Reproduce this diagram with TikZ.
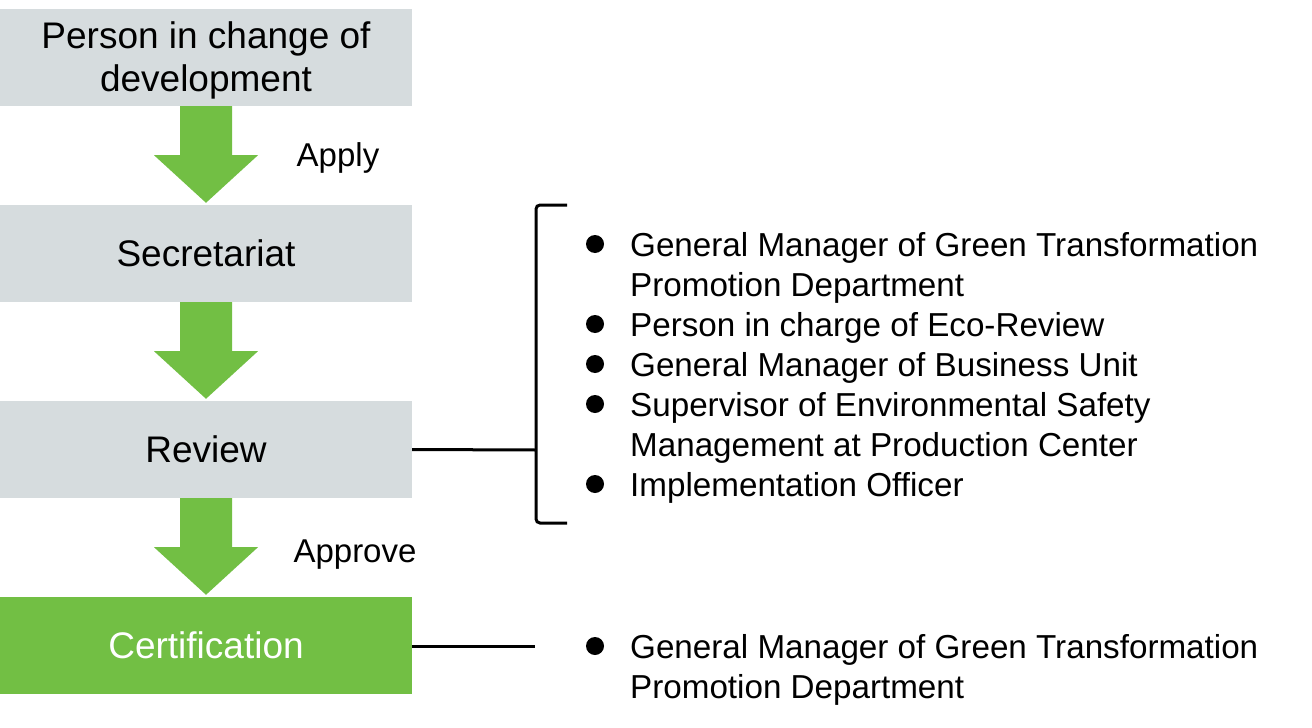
\documentclass[tikz,border=0pt]{standalone}
\usepackage{fontspec}
\setmainfont{Liberation Sans}
\usetikzlibrary{calc}
\definecolor{boxgray}{RGB}{214,220,222}
\definecolor{leafgreen}{RGB}{114,191,68}
\begin{document}
\begin{tikzpicture}[x=1bp,y=-1bp,
  stagebox/.style={rectangle, fill=boxgray, minimum width=412bp, minimum height=97bp, inner sep=0pt, align=center, font=\fontsize{37bp}{43bp}\selectfont},
  greenbox/.style={stagebox, fill=leafgreen, text=white},
  boxtext/.style={inner sep=0pt, align=center, font=\fontsize{37bp}{43bp}\selectfont},
  itemtext/.style={anchor=base west, inner sep=0pt, font=\fontsize{33.2bp}{40bp}\selectfont},
  lbl/.style={inner sep=0pt, font=\fontsize{33bp}{40bp}\selectfont},
  dot/.style={circle, fill=black, minimum size=18bp, inner sep=0pt},
  wire/.style={line width=3bp, black}
]
\useasboundingbox (0,0) rectangle (1312,727);

% stage boxes
\node[stagebox] (b1) at (206,57.5) {};
\node[boxtext] (b1t) at (206,60) {Person in change of\\development};
\node[stagebox] (b2) at (206,253.5) {Secretariat};
\node[stagebox] (b3) at (206,449.5) {Review};
\node[greenbox] (b4) at (206,645.5) {Certification};

% block arrows
\foreach \a/\b in {b1/b2,b2/b3,b3/b4}{
  \fill[leafgreen] ($(\a.south)+(-26,0)$) -- ($(\a.south)+(26,0)$) -- ($(\a.south)+(26,49)$)
    -- ($(\a.south)+(52,49)$) -- ($(\b.north)+(0,-2)$) -- ($(\a.south)+(-52,49)$)
    -- ($(\a.south)+(-26,49)$) -- cycle;
}

% arrow labels
\node[lbl] (apply) at (338,158) {Apply};
\node[lbl] (approve) at (355,555) {Approve};

% bracket
\coordinate (bt) at (567,205);
\coordinate (btc) at (536,205);
\coordinate (bbc) at (536,523);
\coordinate (bb) at (567,523);
\coordinate (bm) at (536,450);
\draw[wire, rounded corners=4bp] (bt) -- (btc) -- (bbc) -- (bb);
\draw[wire] (b3.east) -- (bm);
\coordinate (cend) at (535,646);
\draw[wire] (b4.east |- cend) -- (cend);

% review list
\node[dot] (d1) at (595,244) {};
\node[itemtext] (t1a) at (630,256) {General Manager of Green Transformation};
\node[itemtext] (t1b) at (630,296) {Promotion Department};
\node[dot] (d2) at (595,324) {};
\node[itemtext] (t2) at (630,336) {Person in charge of Eco-Review};
\node[dot] (d3) at (595,364) {};
\node[itemtext] (t3) at (630,376) {General Manager of Business Unit};
\node[dot] (d4) at (595,404) {};
\node[itemtext] (t4a) at (630,416) {Supervisor of Environmental Safety};
\node[itemtext] (t4b) at (630,456) {Management at Production Center};
\node[dot] (d5) at (595,484) {};
\node[itemtext] (t5) at (630,496) {Implementation Officer};

% certification list
\node[dot] (d6) at (595,646) {};
\node[itemtext] (t6a) at (630,658) {General Manager of Green Transformation};
\node[itemtext] (t6b) at (630,698) {Promotion Department};
\end{tikzpicture}
\end{document}
